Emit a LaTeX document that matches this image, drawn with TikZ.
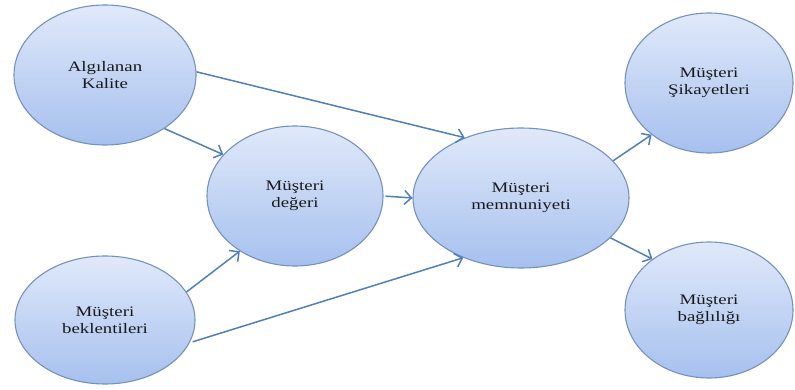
\documentclass[tikz,border=0pt]{standalone}
\usepackage{fontspec}
\setmainfont{Liberation Serif}
\usetikzlibrary{shapes.geometric,arrows.meta}
\definecolor{edgeblue}{HTML}{7791BE}
\definecolor{topblue}{HTML}{E0E9FA}
\definecolor{botblue}{HTML}{A6C0EE}
\definecolor{arrowblue}{HTML}{4F7FBC}
\newcommand{\wtxt}[1]{\scalebox{1.3}[1]{#1}}
\tikzset{
  bubble/.style={ellipse, draw=edgeblue, line width=1.1pt, top color=topblue, bottom color=botblue,
    inner sep=0pt, align=center, font=\fontsize{14.5}{17}\selectfont, text=black!90},
  link/.style={draw=arrowblue, line width=1.5pt, -{Straight Barb[length=7pt,width=14pt,line width=1.5pt]}}
}
\begin{document}
\begin{tikzpicture}[x=1pt,y=-1pt]
\useasboundingbox (0,0) rectangle (795,390);
\node[bubble, minimum width=182pt, minimum height=140pt] (A) at (105,75) {\wtxt{Algılanan}\\\wtxt{Kalite}};
\node[bubble, minimum width=176pt, minimum height=140pt] (D) at (295,196) {\wtxt{Müşteri}\\\wtxt{değeri}};
\node[bubble, minimum width=216pt, minimum height=140pt] (M) at (521,198) {\wtxt{Müşteri}\\\wtxt{memnuniyeti}};
\node[bubble, minimum width=168pt, minimum height=140pt] (S) at (709,83) {\wtxt{Müşteri}\\\wtxt{Şikayetleri}};
\node[bubble, minimum width=168pt, minimum height=136pt] (B) at (709,310) {\wtxt{Müşteri}\\\wtxt{bağlılığı}};
\node[bubble, minimum width=180pt, minimum height=128pt] (E) at (105,320) {\wtxt{Müşteri}\\\wtxt{beklentileri}};
\draw[link] (A.2) -- (M.133);
\draw[link] (A.-42) -- (D.150);
\draw[link, shorten <=2pt] (D.east) -- (M.west);
\draw[link] (E.19) -- (D.-135);
\draw[link, shorten <=3pt] (E.-15) -- (M.-134);
\draw[link] (M.22) -- (S.-138);
\draw[link] (M.-24) -- (B.138);
\end{tikzpicture}
\end{document}
